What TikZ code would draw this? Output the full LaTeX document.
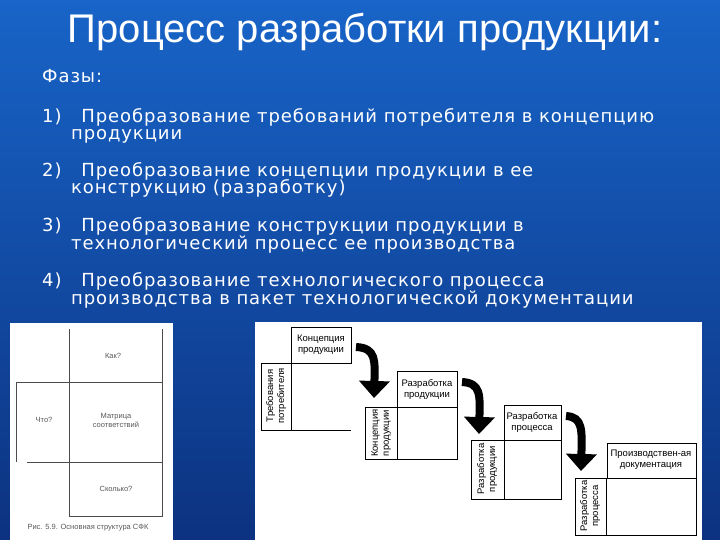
\documentclass[tikz,border=0pt]{standalone}
\usepackage{fontspec}
\setmainfont{DejaVu Sans}[LetterSpace=5]
\newfontfamily\titlefont{Liberation Sans}
\newfontfamily\smallfont{Liberation Sans}
\definecolor{bgtop}{RGB}{24,100,200}
\definecolor{bgbot}{RGB}{12,50,128}
\tikzset{
  body/.style={anchor=base west,text=white,font=\fontsize{18}{20}\selectfont,inner sep=0},
  lab/.style={font=\smallfont\fontsize{9.5}{11}\selectfont,align=center,inner sep=0},
  slab/.style={font=\smallfont\fontsize{7.5}{9}\selectfont,align=center,inner sep=0,text=gray!70!black},
  ln/.style={draw=black,line width=0.7pt},
  bigarrow/.style={line width=8pt,-{Triangle[length=17pt,width=30pt]}}
}
\usetikzlibrary{arrows.meta}
\begin{document}
\begin{tikzpicture}[x=1pt,y=-1pt]
\useasboundingbox (0,0) rectangle (720,540);
\shade[top color=bgtop,bottom color=bgbot] (0,0) rectangle (720,540);
\node[text=white,font=\titlefont\fontsize{40}{42}\selectfont] (title) at (365,32) {Процесс разработки продукции:};
\node[body] (f) at (42,83) {Фазы:};
\node[body] (p1) at (42,123) {1)\ \ \ Преобразование требований потребителя в концепцию};
\node[body] (p1b) at (71,140) {продукции};
\node[body] (p2) at (42,177) {2)\ \ \ Преобразование концепции продукции в ее};
\node[body] (p2b) at (71,194) {конструкцию (разработку)};
\node[body] (p3) at (42,231) {3)\ \ \ Преобразование конструкции продукции в};
\node[body] (p3b) at (71,249) {технологический процесс ее производства};
\node[body] (p4) at (42,286) {4)\ \ \ Преобразование технологического процесса};
\node[body] (p4b) at (71,304) {производства в пакет технологической документации};
% left figure
\fill[white] (10,323) rectangle (173,540);
\draw[ln,draw=gray!60!black,line width=0.5pt] (69,329) -- (69,516) -- (162,516) -- (162,329)
  (16,382) -- (162,382) (16,382) -- (16,462) (27,462) -- (162,462);
\node[slab] (kak) at (113,356) {Как?};
\node[slab] (chto) at (44,420) {Что?};
\node[slab] (mat) at (116,420) {Матрица\\соответствий};
\node[slab] (skol) at (116,489) {Сколько?};
\node[slab] (cap) at (88,528) {Рис. 5.9. Основная структура СФК};
% right figure
\fill[white] (255,322) rectangle (702,540);
\draw[ln] (291,327) rectangle (351,363) (261,363) rectangle (291,430) (291,430) -- (351,430);
\node[lab] (h1) at (321,345) {Концепция\\продукции};
\node[lab,rotate=90] (s1) at (276,396) {Требования\\потребителя};
\draw[ln] (397,371) rectangle (457,407) (365,407) rectangle (397,459) (397,459) -- (457,459) -- (457,407);
\node[lab] (h2) at (427,389) {Разработка\\продукции};
\node[lab,rotate=90] (s2) at (381,433) {Концепция\\продукции};
\draw[ln] (504,405) rectangle (561,440) (471,440) rectangle (504,499) (504,499) -- (561,499) -- (561,440);
\node[lab] (h3) at (532,422) {Разработка\\процесса};
\node[lab,rotate=90] (s3) at (487,469) {Разработка\\продукции};
\draw[ln] (607,443) rectangle (696,478) (575,478) rectangle (606,535) (606,535) -- (696,535) -- (696,478);
\node[lab] (h4) at (651,460) {Производствен-ая\\документация};
\node[lab,rotate=90] (s4) at (590,506) {Разработка\\процесса};
\coordinate (a1s) at (356,347); \coordinate (a1e) at (374,398);
\coordinate (a2s) at (462,382); \coordinate (a2e) at (479,434);
\coordinate (a3s) at (566,416); \coordinate (a3e) at (581,471);
\draw[bigarrow] (a1s) .. controls (376,348) and (375,360) .. (a1e);
\draw[bigarrow] (a2s) .. controls (481,383) and (480,395) .. (a2e);
\draw[bigarrow] (a3s) .. controls (583,417) and (582,430) .. (a3e);
\end{tikzpicture}
\end{document}
